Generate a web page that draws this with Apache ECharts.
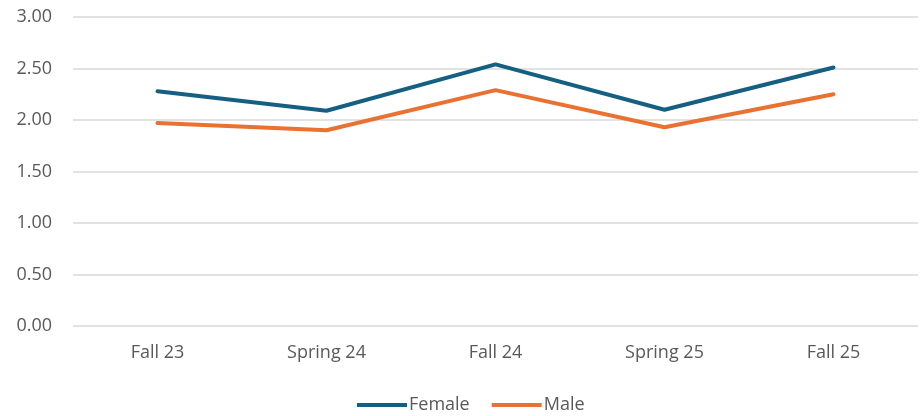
<!DOCTYPE html>
<html>
<head>
<meta charset="utf-8">
<script src="https://cdn.jsdelivr.net/npm/echarts@6/dist/echarts.min.js"></script>
<style>
  html, body { margin: 0; padding: 0; background: #fff; }
  #chart { width: 920px; height: 416px; }
</style>
</head>
<body>
<div id="chart"></div>
<script>
const terms = ['Fall 23', 'Spring 24', 'Fall 24', 'Spring 25', 'Fall 25'];
const female = [2.28, 2.09, 2.54, 2.10, 2.51];
const male = [1.97, 1.90, 2.29, 1.93, 2.25];

const chart = echarts.init(document.getElementById('chart'));
const font = 'Open Sans, Liberation Sans, sans-serif';

chart.setOption({
  animation: false,
  grid: { left: 73, right: 2, top: 17, bottom: 90 },
  legend: {
    top: 391,
    left: 352,
    itemWidth: 50,
    itemHeight: 4,
    itemGap: 22,
    icon: 'rect',
    textStyle: { fontFamily: font, fontSize: 18, color: '#595959', padding: [0, 0, 0, -3] },
    data: ['Female', 'Male']
  },
  xAxis: {
    type: 'category',
    data: terms,
    axisLine: { show: false },
    axisTick: { show: false },
    axisLabel: { fontFamily: font, fontSize: 18, color: '#595959', margin: 18 }
  },
  yAxis: {
    type: 'value',
    min: 0,
    max: 3,
    interval: 0.5,
    axisLabel: {
      fontFamily: font, fontSize: 18, color: '#595959', margin: 21,
      formatter: (v) => v.toFixed(2)
    },
    splitLine: { lineStyle: { color: '#d9d9d9', width: 1.5 } }
  },
  series: [
    {
      name: 'Female', type: 'line', data: female,
      symbol: 'none',
      lineStyle: { color: '#156082', width: 4, cap: 'round' },
      itemStyle: { color: '#156082' }
    },
    {
      name: 'Male', type: 'line', data: male,
      symbol: 'none',
      lineStyle: { color: '#e97132', width: 4, cap: 'round' },
      itemStyle: { color: '#e97132' }
    }
  ]
});
</script>
</body>
</html>
